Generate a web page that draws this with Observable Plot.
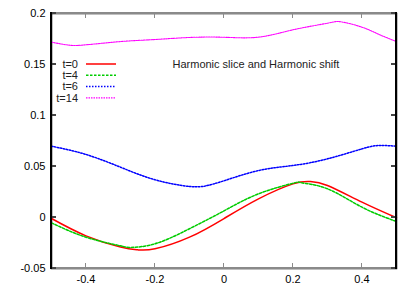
<!DOCTYPE html>
<html>
<head>
<meta charset="utf-8">
<script src="https://cdn.jsdelivr.net/npm/d3@7"></script>
<script src="https://cdn.jsdelivr.net/npm/@observablehq/plot@0.6"></script>
<style>
  html, body { margin: 0; padding: 0; background: #fff; }
  #chart { position: relative; width: 415px; height: 291px; overflow: hidden; }
  #chart svg { display: block; }
  .ov { position: absolute; pointer-events: none; box-sizing: border-box; }
</style>
</head>
<body>
<div id="chart"></div>
<script>
// ---- data ----
const seriesNames = ["t=0", "t=4", "t=6", "t=14"];

const x_t0 = [-0.5, -0.4, -0.3, -0.25, -0.2, -0.1, 0, 0.1, 0.2, 0.25, 0.3, 0.4, 0.5];
const y_t0 = [-0.001, -0.018, -0.029, -0.0317, -0.0307, -0.0193, -0.001, 0.0183, 0.033, 0.0353, 0.0314, 0.015, -0.0003];

const x_t4 = [-0.5, -0.4, -0.3, -0.27, -0.2, -0.1, 0, 0.1, 0.2, 0.225, 0.3, 0.4, 0.5];
const y_t4 = [-0.0052, -0.0193, -0.0278, -0.0293, -0.0258, -0.011, 0.0065, 0.0232, 0.0336, 0.034, 0.0281, 0.0101, -0.0039];

const x_t6 = [-0.5, -0.4, -0.3, -0.2, -0.1, -0.05, 0, 0.1, 0.2, 0.3, 0.4, 0.45, 0.5];
const y_t6 = [0.0699, 0.0618, 0.0493, 0.037, 0.0304, 0.0312, 0.036, 0.046, 0.051, 0.0575, 0.0673, 0.0706, 0.0699];

const x_t14 = [-0.5, -0.45, -0.4, -0.3, -0.2, -0.1, 0, 0.1, 0.2, 0.3, 0.34, 0.4, 0.45, 0.5];
const y_t14 = [0.1719, 0.169, 0.1693, 0.1725, 0.1745, 0.1765, 0.1767, 0.1768, 0.184, 0.1905, 0.1918, 0.1866, 0.1794, 0.1725];

const xTicks = [-0.4, -0.2, 0, 0.2, 0.4];
const xTickLabels = ["-0.4", "-0.2", "0", "0.2", "0.4"];
const yTicks = [-0.05, 0, 0.05, 0.1, 0.15, 0.2];
const yTickLabels = ["-0.05", "0", "0.05", "0.1", "0.15", "0.2"];

const titleText = "Harmonic slice and Harmonic shift";

// ---- build table ----
const xsAll = [x_t0, x_t4, x_t6, x_t14];
const ysAll = [y_t0, y_t4, y_t6, y_t14];
const rows = [];
seriesNames.forEach((s, i) => xsAll[i].forEach((x, j) => rows.push({series: s, x, y: ysAll[i][j]})));

const styles = {
  "t=0":  {stroke: "#ff0000", dash: null,  width: 1.5},
  "t=4":  {stroke: "#00cc00", dash: "2.5,1.5", width: 1.5},
  "t=6":  {stroke: "#0000ff", dash: "1.5,1.5", width: 1.5},
  "t=14": {stroke: "#ff00ff", dash: "1.5,1", width: 1.1}
};

const font = "'Liberation Sans', Arial, Helvetica, sans-serif";
const fmtX = d => xTickLabels[xTicks.findIndex(t => Math.abs(t - d) < 1e-9)];
const fmtY = d => yTickLabels[yTicks.findIndex(t => Math.abs(t - d) < 1e-9)];

const lineMarks = seriesNames.map(s => {
  const o = {x: "x", y: "y", stroke: styles[s].stroke, strokeWidth: styles[s].width, curve: "natural"};
  if (styles[s].dash) o.strokeDasharray = styles[s].dash;
  return Plot.line(rows.filter(r => r.series === s), o);
});

const chart = Plot.plot({
  width: 415,
  height: 291,
  marginLeft: 51,
  marginRight: 19,
  marginTop: 13,
  marginBottom: 23,
  style: {fontFamily: font, fontSize: "11px"},
  x: {domain: [-0.5, 0.5]},
  y: {domain: [-0.05, 0.2]},
  marks: [
    Plot.frame({stroke: "#000", strokeWidth: 1.5}),
    ...lineMarks,
    Plot.axisX(xTicks, {anchor: "bottom", tickSize: 0, tickPadding: 7, tickFormat: fmtX, label: null}),
    Plot.axisY(yTicks, {anchor: "left", tickSize: 0, tickPadding: 6, tickFormat: fmtY, label: null}),
    Plot.text([titleText], {frameAnchor: "top-left", dx: 121, dy: 51, textAnchor: "start", lineAnchor: "middle", fill: "#222", fontSize: 11})
  ]
});

const host = document.getElementById("chart");
host.appendChild(chart);

// legend inside the plot (svg)
const svg = d3.select(chart);
const g = svg.append("g").attr("text-anchor", "start");
const legendRowY = [64, 75.3, 86.6, 97.9];
seriesNames.forEach((s, i) => {
  g.append("text").attr("x", 78).attr("y", legendRowY[i]).attr("dy", "0.35em")
    .attr("text-anchor", "end").attr("fill", "#222")
    .style("font-family", font).style("font-size", "11px").text(s);
  const ln = g.append("line").attr("x1", 86).attr("x2", 116).attr("y1", legendRowY[i]).attr("y2", legendRowY[i])
    .attr("stroke", styles[s].stroke).attr("stroke-width", styles[s].width);
  if (styles[s].dash) ln.attr("stroke-dasharray", styles[s].dash);
});

// frame border and inward ticks as an overlay, positioned with the plot's own scales
const sx = chart.scale("x"), sy = chart.scale("y");
const X = v => sx.apply(v), Y = v => sy.apply(v);
const L = X(-0.5), R = X(0.5), T = Y(0.2), B = Y(-0.05);
function box(left, top, w, h, color) {
  const d = document.createElement("div");
  d.className = "ov";
  d.style.left = left + "px"; d.style.top = top + "px";
  d.style.width = w + "px"; d.style.height = h + "px";
  d.style.background = color;
  host.appendChild(d);
}
box(L - 1, T - 1, R - L + 2, 2, "#8a8a8a");   // top
box(L - 1, B - 1, R - L + 2, 2, "#8a8a8a");   // bottom
box(L - 1, T - 1, 2, B - T + 2, "#000");      // left
box(R - 1, T - 1, 2, B - T + 2, "#000");      // right
xTicks.forEach(t => {
  box(X(t) - 0.75, B - 5, 1.5, 4, "#8a8a8a");
  box(X(t) - 0.75, T + 1, 1.5, 4, "#8a8a8a");
});
yTicks.forEach(t => {
  box(L + 1, Y(t) - 0.6, 4, 1.2, "#444");
  box(R - 5, Y(t) - 0.6, 4, 1.2, "#444");
});
</script>
</body>
</html>
